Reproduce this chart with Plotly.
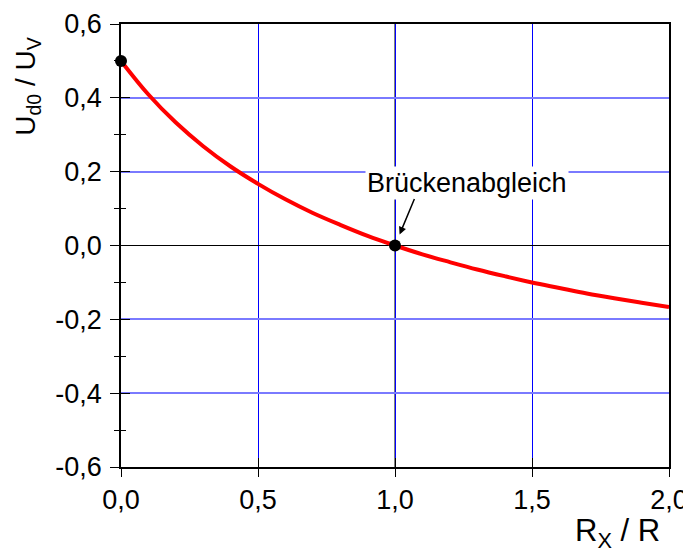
import plotly.graph_objects as go

# Data
x_vals = [0.0, 0.1, 0.2, 0.3, 0.4, 0.5, 0.6, 0.7, 0.8, 0.9, 1.0,
          1.1, 1.2, 1.3, 1.4, 1.5, 1.6, 1.7, 1.8, 1.9, 2.0]
y_vals = [0.5, 0.409, 0.333, 0.269, 0.214, 0.167, 0.125, 0.088, 0.056, 0.026, 0.0,
          -0.024, -0.045, -0.065, -0.083, -0.100, -0.115, -0.130, -0.143, -0.155, -0.167]
marker_x = [0.0, 1.0]
marker_y = [0.5, 0.0]

x_ticks = [0.0, 0.5, 1.0, 1.5, 2.0]
x_ticktext = ["0,0", "0,5", "1,0", "1,5", "2,0"]
y_ticks = [-0.6, -0.4, -0.2, 0.0, 0.2, 0.4, 0.6]
y_ticktext = ["-0,6", "-0,4", "-0,2", "0,0", "0,2", "0,4", "0,6"]

FONT = "Arial, Liberation Sans, sans-serif"

fig = go.Figure()
fig.add_trace(go.Scatter(x=x_vals, y=y_vals, mode="lines",
                         line=dict(color="#ff0000", width=4, shape="spline"),
                         hoverinfo="skip", showlegend=False))
fig.add_trace(go.Scatter(x=marker_x, y=marker_y, mode="markers",
                         marker=dict(color="black", size=12),
                         showlegend=False, cliponaxis=False))
# invisible trace for overlay axes (inner tick halves)
fig.add_trace(go.Scatter(x=[0], y=[0], xaxis="x2", yaxis="y2", mode="markers",
                         marker=dict(opacity=0), showlegend=False, hoverinfo="skip"))

# black gridline at x = 1
fig.add_shape(type="line", xref="x", yref="paper", x0=1, x1=1, y0=0, y1=1,
              line=dict(color="black", width=1), layer="below")

# page body has an 8px default margin, so the figure is sized to fit the window
fig.update_layout(
    template="none",
    width=683, height=549,
    margin=dict(l=113, r=22, t=16, b=90),
    plot_bgcolor="white", paper_bgcolor="white",
    font=dict(family=FONT, size=27, color="black"),
    xaxis=dict(range=[0, 2], tickvals=x_ticks, ticktext=x_ticktext,
               automargin=False,
               showline=True, linecolor="black", linewidth=1.5, mirror=True,
               ticks="outside", ticklen=8, tickcolor="black", tickwidth=1,
               showgrid=True, gridcolor="#0000ff", gridwidth=1,
               zeroline=False, ticklabelstandoff=0),
    yaxis=dict(range=[-0.6, 0.6], tickvals=y_ticks, ticktext=y_ticktext,
               automargin=False,
               showline=True, linecolor="black", linewidth=1.5, mirror=True,
               ticks="outside", ticklen=9, tickcolor="black", tickwidth=1,
               minor=dict(dtick=0.1, tick0=0, ticks="outside", ticklen=5,
                          tickcolor="black", showgrid=False),
               showgrid=True, gridcolor="#7a7aff", gridwidth=2,
               zeroline=True, zerolinecolor="black", zerolinewidth=1,
               ticklabelstandoff=3),
    xaxis2=dict(overlaying="x", matches="x", anchor="y", side="bottom",
                automargin=False,
                range=[0, 2], tickvals=x_ticks, showticklabels=False,
                ticks="inside", ticklen=9, tickcolor="black",
                showgrid=False, showline=False, zeroline=False),
    yaxis2=dict(overlaying="y", matches="y", anchor="x", side="left",
                automargin=False,
                range=[-0.6, 0.6], tickvals=y_ticks, showticklabels=False,
                ticks="inside", ticklen=9, tickcolor="black",
                minor=dict(dtick=0.1, tick0=0, ticks="inside", ticklen=5,
                           tickcolor="black", showgrid=False),
                showgrid=False, showline=False, zeroline=False),
    annotations=[
        dict(text="Brückenabgleich", x=1, y=0, xref="x", yref="y",
             xshift=72, yshift=63, showarrow=False, bgcolor="white",
             font=dict(size=27), borderpad=1),
        dict(text="", x=1, y=0, xref="x", yref="y", ax=20, ay=-48,
             showarrow=True, arrowhead=2, arrowsize=1, arrowwidth=1.5,
             arrowcolor="black", standoff=12),
        dict(text="U<sub>d0</sub> / U<sub>V</sub>", x=-0.172, y=0.86,
             xref="paper", yref="paper", xanchor="center", yanchor="middle",
             textangle=-90, showarrow=False, font=dict(size=28)),
        dict(text="R<sub>X</sub> / R", x=0.987, y=-0.148, xref="paper", yref="paper",
             xanchor="right", yanchor="middle", showarrow=False,
             font=dict(size=31)),
    ],
)

fig.write_html("out.html")
